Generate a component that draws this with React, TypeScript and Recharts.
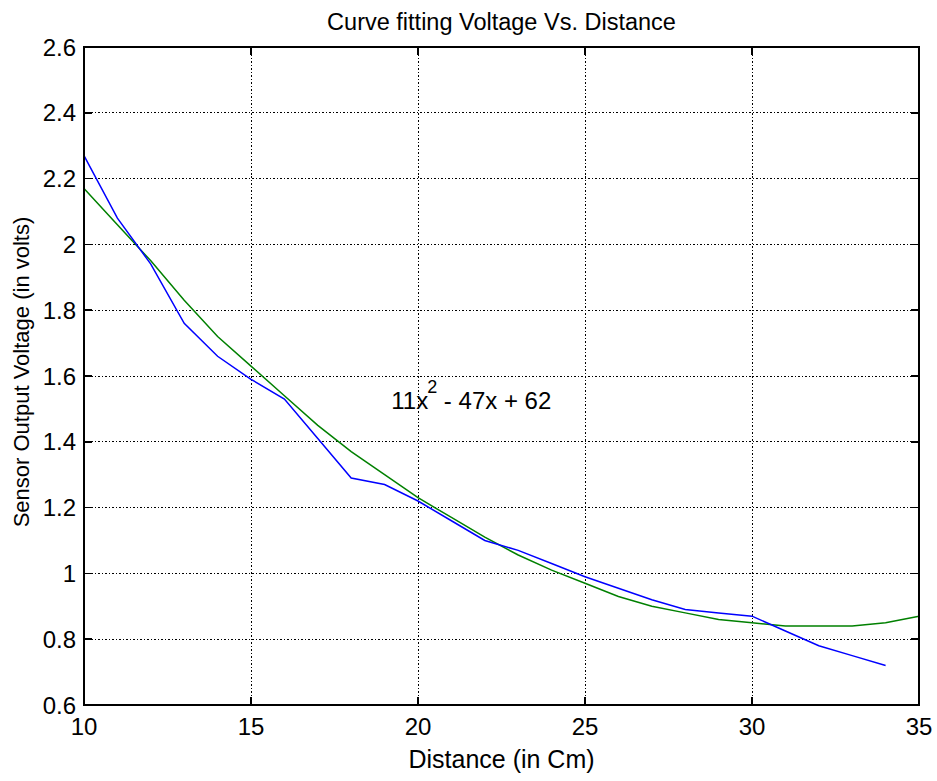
import React from 'react';
import { LineChart, Line, XAxis, YAxis, CartesianGrid, ReferenceDot } from 'recharts';

const distance = [10, 11, 12, 13, 14, 15, 16, 17, 18, 19, 20, 21, 22, 23, 24, 25, 26, 27, 28, 29, 30, 31, 32, 33, 34, 35];
const measured = [2.27, 2.08, 1.94, 1.76, 1.66, 1.59, 1.53, 1.41, 1.29, 1.27, 1.22, 1.16, 1.1, 1.07, 1.03, 0.99, 0.955, 0.92, 0.89, 0.88, 0.87, 0.825, 0.78, 0.75, 0.72, null];
const fitted = [2.17, 2.06, 1.95, 1.83, 1.72, 1.63, 1.54, 1.45, 1.37, 1.3, 1.23, 1.17, 1.11, 1.056, 1.01, 0.97, 0.93, 0.9, 0.88, 0.86, 0.85, 0.84, 0.84, 0.84, 0.85, 0.87];
const xTicks = [10, 15, 20, 25, 30, 35];
const yTicks = [0.6, 0.8, 1, 1.2, 1.4, 1.6, 1.8, 2, 2.2, 2.4, 2.6];

const data = distance.map((d, i) => ({ d, measured: measured[i], fitted: fitted[i] }));

const W = 937;
const H = 781;
const margin = { top: 47, right: 18, bottom: 46, left: 24 };
const YW = 60;
const XH = 30;
const plotL = margin.left + YW;
const plotW = W - margin.left - margin.right - YW;
const plotH = H - margin.top - margin.bottom - XH;
const font = '"Liberation Sans", Arial, sans-serif';

const YTick = (props: any) => {
  const { x, y, payload } = props;
  const edge = x + 8;
  return (
    <g>
      <text x={x} y={y} dy="0.36em" textAnchor="end" fontSize={24} fill="#000" fontFamily={font}>{payload.value}</text>
      <line x1={edge} x2={edge + 8} y1={y} y2={y} stroke="#000" strokeWidth={1.5} shapeRendering="crispEdges" />
      <line x1={edge + plotW - 8} x2={edge + plotW} y1={y} y2={y} stroke="#000" strokeWidth={1.5} shapeRendering="crispEdges" />
    </g>
  );
};

const XTick = (props: any) => {
  const { x, y, payload } = props;
  const edge = y - 8;
  return (
    <g>
      <text x={x} y={y} dy={22} textAnchor="middle" fontSize={24} fill="#000" fontFamily={font}>{payload.value}</text>
      <line x1={x} x2={x} y1={edge} y2={edge - 8} stroke="#000" strokeWidth={1.5} shapeRendering="crispEdges" />
      <line x1={x} x2={x} y1={edge - plotH} y2={edge - plotH + 8} stroke="#000" strokeWidth={1.5} shapeRendering="crispEdges" />
    </g>
  );
};

const Formula = (props: any) => {
  const { viewBox } = props;
  return (
    <text x={viewBox.x} y={viewBox.y} fontSize={24} fill="#000" fontFamily={font}>
      11x
      <tspan dy={-16} dx={-1} fontSize={18}>2</tspan>
      <tspan dy={16}> - 47x + 62</tspan>
    </text>
  );
};

export default function App() {
  return (
    <div style={{ position: 'absolute', left: 0, top: 0, width: W, height: H, background: '#fff', fontFamily: font }}>
      <div style={{ position: 'absolute', left: 0, width: W + 66, top: 9, textAlign: 'center', fontSize: 23.5, lineHeight: 'normal' }}>
        Curve fitting Voltage Vs. Distance
      </div>
      <div style={{ position: 'absolute', left: 84, width: plotW, top: 745, textAlign: 'center', fontSize: 25, lineHeight: 'normal' }}>
        Distance (in Cm)
      </div>
      <div
        style={{
          position: 'absolute', left: 22, top: 372, fontSize: 22, whiteSpace: 'nowrap', lineHeight: 'normal',
          transform: 'translate(-50%, -50%) rotate(-90deg)',
        }}
      >
        Sensor Output Voltage (in volts)
      </div>
      <LineChart width={W} height={H} data={data} margin={margin} style={{ position: 'absolute', left: 0, top: 0 }}>
        <CartesianGrid stroke="#000" strokeDasharray="1.5 2" horizontalValues={yTicks} verticalValues={xTicks} shapeRendering="crispEdges" />
        <XAxis
          dataKey="d" type="number" domain={[10, 35]} ticks={xTicks} height={XH}
          axisLine={false} tickLine={false} tickSize={0} tickMargin={8} tick={<XTick />} interval={0}
        />
        <YAxis
          type="number" domain={[0.6, 2.6]} ticks={yTicks} width={YW}
          axisLine={false} tickLine={false} tickSize={0} tickMargin={8} tick={<YTick />} interval={0}
        />
        <Line dataKey="fitted" stroke="#008000" strokeWidth={1.5} dot={false} isAnimationActive={false} type="linear" />
        <Line dataKey="measured" stroke="#0000FF" strokeWidth={1.5} dot={false} isAnimationActive={false} type="linear" />
        <ReferenceDot x={19.2} y={1.5} r={0} fill="none" stroke="none" label={<Formula />} />
      </LineChart>
      {/* plot frame */}
      <div
        style={{
          position: 'absolute', left: plotL - 1, top: margin.top - 1, width: plotW + 2, height: plotH + 2,
          boxSizing: 'border-box', border: '2px solid #000', pointerEvents: 'none',
        }}
      />
    </div>
  );
}
